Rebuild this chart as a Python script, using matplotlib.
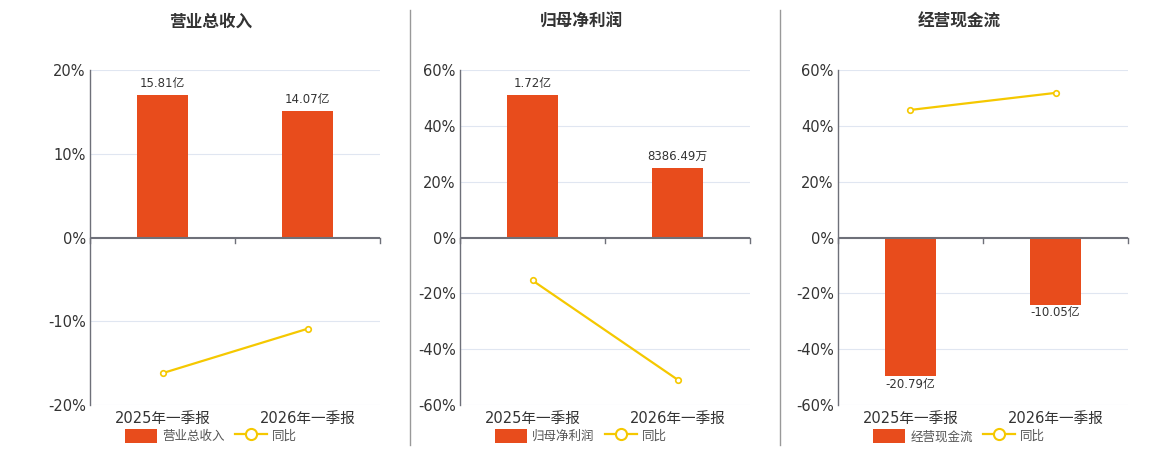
import matplotlib
matplotlib.use('Agg')
import matplotlib.pyplot as plt
from matplotlib.lines import Line2D
from matplotlib.patches import Patch

plt.rcParams['font.family'] = ['DejaVu Sans', 'Noto Sans CJK SC']

periods = ['2025年一季报', '2026年一季报']
titles = ['营业总收入', '归母净利润', '经营现金流']
names = ['营业总收入', '归母净利润', '经营现金流']
amounts = [[15.81, 14.07], [1.72, 0.838649], [-20.79, -10.05]]   # 亿
amount_labels = [['15.81亿', '14.07亿'], ['1.72亿', '8386.49万'], ['-20.79亿', '-10.05亿']]
yoy = [[-16.2, -10.9], [-15.4, -50.9], [45.7, 51.8]]  # %
pct_ticks = [[-20, -10, 0, 10, 20], [-60, -40, -20, 0, 20, 40, 60], [-60, -40, -20, 0, 20, 40, 60]]
bar_lim = [18.6, 2.02, 25.1]

bar_color = '#E84C1C'
line_color = '#F5C800'
axis_color = '#6E7079'
grid_color = '#E0E6F1'
text_color = '#333333'

fig = plt.figure(figsize=(11.6, 4.5), dpi=100)
lefts = [90, 460, 838]

for i in range(3):
    rect = [lefts[i] / 1160, 45 / 450, 290 / 1160, 335 / 450]
    ax = fig.add_axes(rect)
    ticks = pct_ticks[i]
    ax.set_ylim(ticks[0], ticks[-1])
    ax.set_xlim(-0.5, 1.5)
    ax.set_yticks(ticks)
    ax.set_yticklabels([f'{t}%' for t in ticks], fontsize=10.5, color=text_color)
    ax.tick_params(axis='y', length=0, pad=3)
    ax.set_xticks([0, 1])
    ax.set_xticklabels(periods, fontsize=10.5, color=text_color)
    ax.tick_params(axis='x', length=0, pad=4)
    for t in ticks:
        if t != 0:
            ax.axhline(t, color=grid_color, lw=0.8, zorder=0)
    for s in ['top', 'right', 'bottom']:
        ax.spines[s].set_visible(False)
    ax.spines['left'].set_color(axis_color)
    ax.spines['left'].set_linewidth(1)

    # bars on their own hidden scale
    ax2 = fig.add_axes(rect, sharex=ax)
    ax2.set_ylim(-bar_lim[i], bar_lim[i])
    ax2.axis('off')
    ax2.bar([0, 1], amounts[i], width=0.345, color=bar_color, zorder=2)
    for x, v, lab in zip([0, 1], amounts[i], amount_labels[i]):
        off = bar_lim[i] * 0.02
        if v >= 0:
            ax2.text(x, v + off * 1.5, lab, ha='center', va='bottom', fontsize=8.5, color=text_color)
        else:
            ax2.text(x, v - off * 0.5, lab, ha='center', va='top', fontsize=8.5, color=text_color)

    # line on top, same scale as percent axis
    ax3 = fig.add_axes(rect, sharex=ax, sharey=ax)
    ax3.axis('off')
    ax3.axhline(0, color=axis_color, lw=1.5, zorder=6)
    for xt in [-0.5, 0.5, 1.5]:
        ax3.plot([xt, xt], [0, -ticks[-1] * 0.03], color=axis_color, lw=1, clip_on=False, zorder=6)
    ax3.plot([0, 1], yoy[i], color=line_color, lw=1.6, marker='o', ms=4,
             mfc='white', mec=line_color, mew=1.2, zorder=5)

    fig.text((lefts[i] + 121) / 1160, 1 - 22 / 450, titles[i], ha='center', va='center',
             fontsize=12, fontweight='bold', color=text_color)

    handles = [Patch(facecolor=bar_color, edgecolor='none'),
               Line2D([0], [0], color=line_color, lw=1.6, marker='o', ms=8, mfc='white', mec=line_color, mew=1.5)]
    fig.legend(handles, [names[i], '同比'], loc='center', bbox_to_anchor=((lefts[i] + 121) / 1160, 1 - 436 / 450),
               ncol=2, frameon=False, fontsize=9, handlelength=2.6, handleheight=1.4, columnspacing=0.8,
               handletextpad=0.4, labelcolor='#555555')

for xs in [410, 780]:
    fig.add_artist(Line2D([xs / 1160, xs / 1160], [5 / 450, 440 / 450], color='#999999', lw=1))

fig.savefig('out.png', dpi=100)
